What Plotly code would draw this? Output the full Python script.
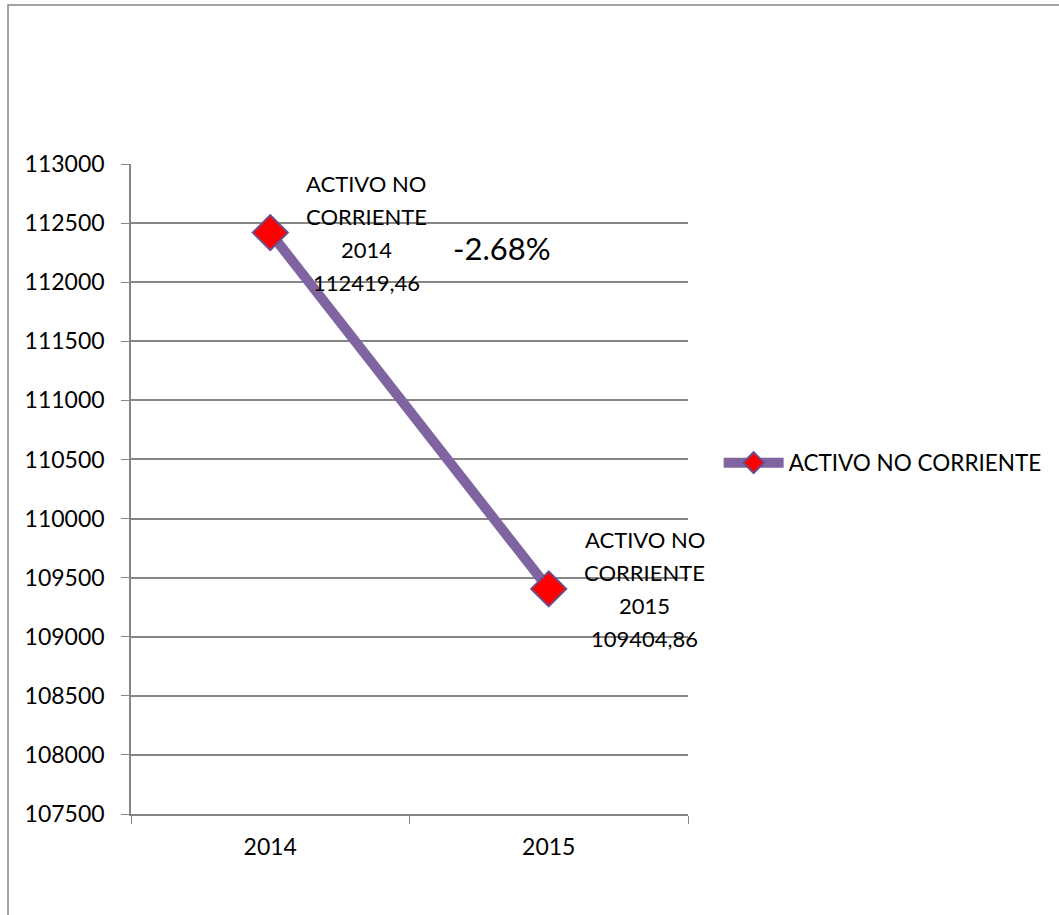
import plotly.graph_objects as go

categories = ["2014", "2015"]
series_name = "ACTIVO NO CORRIENTE"
values = [112419.46, 109404.86]
y_ticks = [107500, 108000, 108500, 109000, 109500, 110000, 110500, 111000, 111500, 112000, 112500, 113000]

FONT = "Lato, Calibri, Carlito, sans-serif"
GRID = "#868686"
PURPLE = "#8064A2"

fig = go.Figure()
fig.add_trace(go.Scatter(
    x=categories, y=values, mode="lines+markers", name=series_name,
    line=dict(color=PURPLE, width=10),
    marker=dict(symbol="diamond", size=27, color="#FF0000",
                line=dict(color="#6A4E8E", width=2)),
))

annotations = []
for idx, (cat, val) in enumerate(zip(categories, values)):
    lines = ["ACTIVO NO", "CORRIENTE", cat, f"{val:.2f}".replace(".", ",")]
    n = len(lines)
    for i, t in enumerate(lines):
        annotations.append(dict(
            x=idx, y=val, xref="x", yref="y", text=t, showarrow=False,
            xanchor="center", yanchor="middle", xshift=96,
            yshift=(n - 1) / 2 * 33 - i * 33,
            font=dict(family=FONT, size=22, color="black"),
        ))

pct = (values[1] - values[0]) / values[0] * 100
annotations.append(dict(
    x=0.666, y=0.871, xref="paper", yref="paper", text=f"{pct:.2f}%",
    showarrow=False, xanchor="center", yanchor="middle",
    font=dict(family=FONT, size=31, color="black"),
))

fig.update_layout(
    width=1059, height=915,
    margin=dict(l=131, r=371, t=164, b=101, autoexpand=False),
    paper_bgcolor="white", plot_bgcolor="white",
    font=dict(family=FONT, size=23, color="black"),
    showlegend=True,
    legend=dict(x=1.055, y=0.54, xanchor="left", yanchor="middle",
                font=dict(family=FONT, size=22.5, color="black"),
                bgcolor="rgba(0,0,0,0)", itemwidth=60),
    annotations=annotations,
    shapes=[dict(type="rect", xref="paper", yref="paper",
                 x0=-0.2208, y0=-1, x1=2, y1=1.2446,
                 line=dict(color=GRID, width=1.5), fillcolor="rgba(0,0,0,0)")],
    xaxis=dict(type="category", range=[-0.5, 1.5], showgrid=False,
               showline=True, linecolor=GRID, linewidth=1.5,
               ticks="outside", tickson="boundaries", ticklen=8, tickcolor=GRID,
               tickfont=dict(family=FONT, size=23), ticklabelstandoff=12),
    yaxis=dict(range=[107500, 113000], tickvals=y_ticks,
               ticktext=[str(v) for v in y_ticks],
               showgrid=True, gridcolor=GRID, gridwidth=1.5,
               showline=True, linecolor=GRID, linewidth=1.5,
               ticks="outside", ticklen=8, tickcolor=GRID,
               tickfont=dict(family=FONT, size=23), ticklabelstandoff=12,
               zeroline=False),
)

fig.write_html("out.html", config={"displayModeBar": False},
               post_script="document.body.style.margin='0';document.body.style.overflow='hidden';")
